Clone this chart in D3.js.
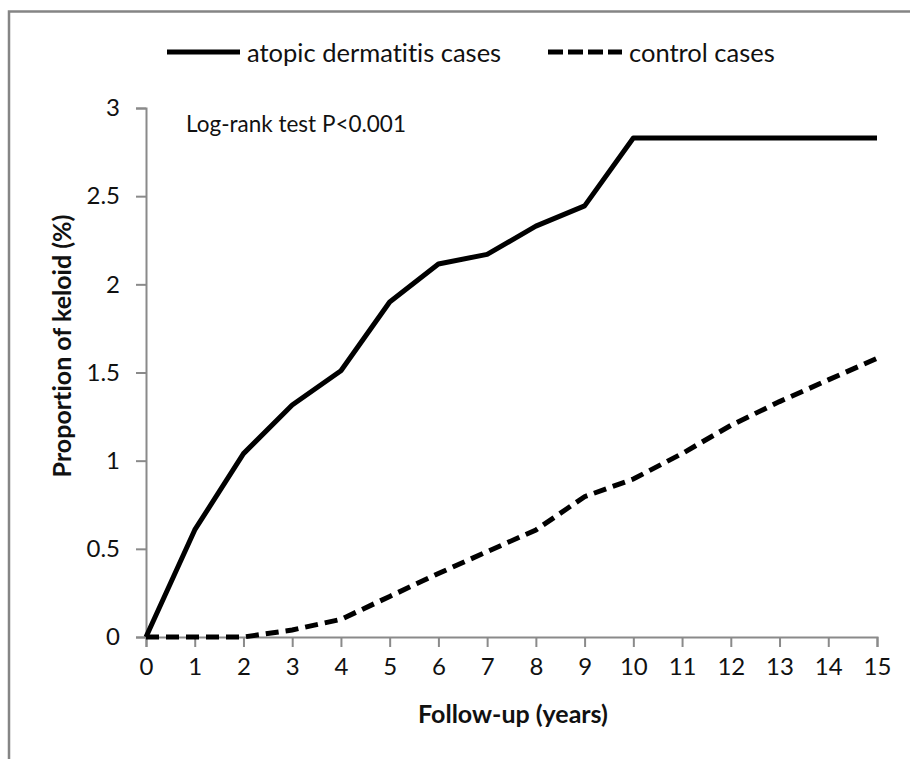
<!DOCTYPE html>
<html>
<head>
<meta charset="utf-8">
<script src="https://cdn.jsdelivr.net/npm/d3@7"></script>
<style>
  body { margin: 0; background: #fff; }
  text { font-family: Lato, "Open Sans", sans-serif; fill: #111; font-variant-ligatures: none; }
</style>
</head>
<body>
<script>
const years = [0, 1, 2, 3, 4, 5, 6, 7, 8, 9, 10, 11, 12, 13, 14, 15]
const adCases = [0, 0.607, 1.04, 1.316, 1.51, 1.90, 2.115, 2.17, 2.33, 2.445, 2.83, 2.83, 2.83, 2.83, 2.83, 2.83]
const controlCases = [0, 0, 0, 0.04, 0.10, 0.23, 0.36, 0.484, 0.607, 0.796, 0.896, 1.04, 1.20, 1.335, 1.458, 1.58]
const yTicks = [0, 0.5, 1, 1.5, 2, 2.5, 3]
const seriesNames = ['atopic dermatitis cases', 'control cases']

const width = 910, height = 759
const svg = d3.select('body').append('svg')
  .attr('width', width)
  .attr('height', height)

// outer frame (only top and left edges visible)
svg.append('path')
  .attr('d', 'M9,759 L9,11.5 L910,11.5')
  .attr('fill', 'none')
  .attr('stroke', '#858585')
  .attr('stroke-width', 2.5)

const x = d3.scaleLinear().domain([0, 15]).range([146, 877])
const y = d3.scaleLinear().domain([0, 3]).range([637, 108])

// x axis
const xAxis = svg.append('g')
  .attr('transform', 'translate(0,' + y(0) + ')')
  .call(d3.axisBottom(x).tickValues(years).tickSize(10).tickPadding(11).tickFormat(d3.format('d')))
xAxis.select('.domain').attr('stroke', '#8a8a8a').attr('stroke-width', 2)
xAxis.selectAll('.tick line').attr('stroke', '#8a8a8a').attr('stroke-width', 2)
xAxis.selectAll('.tick text').attr('font-size', 24).attr('font-family', 'Lato').attr('fill', '#111')

// y axis
const yAxis = svg.append('g')
  .attr('transform', 'translate(' + x(0) + ',0)')
  .call(d3.axisLeft(y).tickValues(yTicks).tickSize(10).tickPadding(16).tickFormat(d => d))
yAxis.select('.domain').attr('stroke', '#8a8a8a').attr('stroke-width', 2)
yAxis.selectAll('.tick line').attr('stroke', '#8a8a8a').attr('stroke-width', 2)
yAxis.selectAll('.tick text').attr('font-size', 24).attr('font-family', 'Lato').attr('fill', '#111')

// lines
const line = d3.line()
  .x((d, i) => x(years[i]))
  .y(d => y(d))

svg.append('path')
  .datum(adCases)
  .attr('d', line)
  .attr('fill', 'none')
  .attr('stroke', '#000')
  .attr('stroke-width', 5)
  .attr('stroke-linejoin', 'round')

svg.append('path')
  .datum(controlCases)
  .attr('d', line)
  .attr('fill', 'none')
  .attr('stroke', '#000')
  .attr('stroke-width', 5)
  .attr('stroke-dasharray', '13,7')

// axis titles
svg.append('text')
  .attr('x', 513)
  .attr('y', 723)
  .attr('text-anchor', 'middle')
  .attr('font-size', 25)
  .attr('font-weight', 'bold')
  .text('Follow-up (years)')

svg.append('text')
  .attr('transform', 'translate(71,346) rotate(-90)')
  .attr('text-anchor', 'middle')
  .attr('font-size', 25)
  .attr('font-weight', 'bold')
  .text('Proportion of keloid (%)')

// annotation
svg.append('text')
  .attr('x', 186)
  .attr('y', 132)
  .attr('font-size', 22.5)
  .text('Log-rank test P<0.001')

// legend
const legend = svg.append('g')
const legendItems = [
  { name: seriesNames[0], x1: 167, x2: 240, dash: null },
  { name: seriesNames[1], x1: 548, x2: 622, dash: '15,5' }
]
legendItems.forEach(item => {
  legend.append('line')
    .attr('x1', item.x1).attr('x2', item.x2)
    .attr('y1', 52).attr('y2', 52)
    .attr('stroke', '#000')
    .attr('stroke-width', 5)
    .attr('stroke-dasharray', item.dash)
  legend.append('text')
    .attr('x', item.x2 + 7)
    .attr('y', 62)
    .attr('font-size', 25.5)
    .text(item.name)
})
</script>
</body>
</html>
